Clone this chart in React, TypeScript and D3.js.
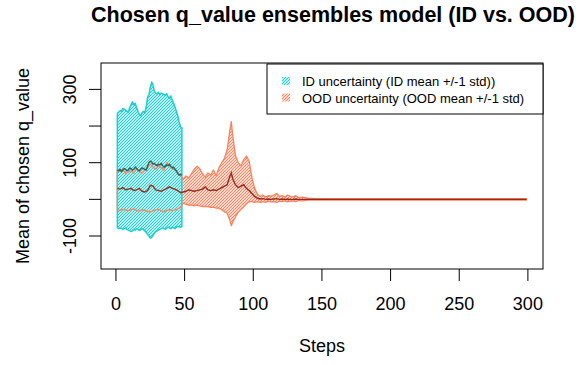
import React from "react";
import * as d3 from "d3";

const idSteps = [1,2,3,4,5,6,7,8,9,10,11,12,13,14,15,16,17,18,19,20,21,22,23,24,25,26,27,28,29,30,31,32,33,34,35,36,37,38,39,40,41,42,43,44,45,46,47,48];
const idUpper = [235,238,242,240,248,246,243,240,238,250,258,266,258,262,250,240,232,228,236,240,236,252,278,285,305,320,312,294,290,288,292,286,290,288,286,284,288,280,276,282,270,262,252,240,228,212,198,195];
const idLower = [-78,-80,-78,-79,-82,-80,-78,-82,-84,-86,-88,-86,-82,-84,-80,-82,-85,-83,-80,-82,-86,-90,-95,-100,-106,-104,-98,-92,-88,-86,-84,-82,-80,-78,-80,-82,-78,-76,-78,-80,-76,-78,-80,-76,-74,-75,-76,-74];
const idMean = [80,78,82,76,80,84,82,78,80,86,84,80,82,88,84,80,78,82,86,84,82,80,90,100,104,102,96,98,94,92,96,94,98,92,88,90,94,92,96,90,86,88,82,78,70,66,68,66];

const oodSteps = [1,3,5,7,9,11,13,15,17,19,21,23,25,27,29,31,33,35,37,39,41,43,45,47,49,51,53,55,57,59,61,63,65,67,69,71,73,75,77,79,81,83,84,85,87,89,91,93,95,97,99,101,103,105,107,109,111,113,115,117,119,121,123,125,127,129,131,133,136,140,145,150,200,250,299];
const oodUpper = [80,76,82,70,74,78,72,84,76,72,80,86,96,88,82,92,86,80,100,90,84,80,72,66,55,64,58,70,82,90,84,70,60,72,66,80,64,86,100,112,136,190,212,175,120,100,92,108,118,104,60,30,14,8,12,6,10,8,12,16,8,10,6,12,8,6,10,5,6,3,2,2,2,2,2];
const oodLower = [-28,-30,-27,-29,-31,-28,-26,-30,-32,-28,-30,-33,-35,-31,-29,-27,-31,-34,-30,-28,-31,-29,-26,-22,-10,-14,-16,-15,-18,-16,-18,-20,-19,-20,-22,-21,-24,-24,-28,-34,-38,-58,-72,-62,-48,-35,-28,-20,-12,-6,-6,-8,-6,-8,-6,-8,-5,-7,-6,-8,-5,-6,-4,-7,-5,-4,-6,-3,-4,-2,-2,-2,-2,-2,-2];
const oodMean = [30,28,32,26,28,30,24,26,30,22,20,24,38,36,26,24,22,26,30,34,30,28,24,18,20,22,26,24,22,24,26,28,34,26,24,26,24,28,32,36,40,64,72,56,40,32,36,40,30,24,16,8,3,1,2,0,1,0,1,2,0,1,0,1,0,0,1,0,0,0,0,0,0,0,0];

const xTicks = [0, 50, 100, 150, 200, 250, 300];
const yTicks = [-100, 0, 100, 200, 300];
const yTickLabels = ["-100", "", "100", "", "300"];

const title = "Chosen q_value ensembles model (ID vs. OOD)";
const xTitle = "Steps";
const yTitle = "Mean of chosen q_value";
const legendLabels = ["ID uncertainty (ID mean +/-1 std))", "OOD uncertainty (OOD mean +/-1 std)"];

const ID_COLOR = "#1fcfcf";
const OOD_COLOR = "#fb825e";
const ID_MEAN_COLOR = "#2f5f5c";
const OOD_MEAN_COLOR = "#962a1e";

const FONT = "'Liberation Sans', Arial, Helvetica, sans-serif";
const HATCH = "M0,3 L3,0 M-1,1 L1,-1 M2,4 L4,2";

export default function App() {
  const W = 588, H = 365;
  const left = 101, right = 543, top = 63, bottom = 269;
  const x = d3.scaleLinear().domain([-10.9, 311]).range([left, right]);
  const y = d3.scaleLinear().domain([-190, 372]).range([bottom, top]);

  const idData = idSteps.map((s, i) => ({ s, u: idUpper[i], l: idLower[i], m: idMean[i] }));
  const oodData = oodSteps.map((s, i) => ({ s, u: oodUpper[i], l: oodLower[i], m: oodMean[i] }));

  const area = d3.area<any>().x(d => x(d.s)).y0(d => y(d.l)).y1(d => y(d.u));
  const meanLine = d3.line<any>().x(d => x(d.s)).y(d => y(d.m));
  const outline = (data: any[]) => {
    const pts = data.map(d => [x(d.s), y(d.u)] as [number, number])
      .concat(data.slice().reverse().map(d => [x(d.s), y(d.l)] as [number, number]));
    return d3.line()(pts) + "Z";
  };

  return (
    <svg width={W} height={H} style={{ position: "absolute", left: 0, top: 0 }} fontFamily={FONT}>
      <defs>
        <pattern id="hatchID" patternUnits="userSpaceOnUse" width="3" height="3">
          <path d={HATCH} stroke={ID_COLOR} strokeWidth="1.2" fill="none" />
        </pattern>
        <pattern id="hatchOOD" patternUnits="userSpaceOnUse" width="3" height="3">
          <path d={HATCH} stroke={OOD_COLOR} strokeWidth="1.2" fill="none" />
        </pattern>
      </defs>
      <rect x={0} y={0} width={W} height={H} fill="white" />

      {/* bands */}
      <path d={area(oodData) || ""} fill="url(#hatchOOD)" />
      <path d={area(idData) || ""} fill="white" />
      <path d={area(idData) || ""} fill="url(#hatchID)" />
      <path d={outline(idData)} fill="none" stroke={ID_COLOR} strokeWidth={1.5} strokeLinejoin="round" />
      <path d={outline(oodData)} fill="none" stroke={OOD_COLOR} strokeWidth={1.3} strokeLinejoin="round" />
      <path d={meanLine(idData) || ""} fill="none" stroke={ID_MEAN_COLOR} strokeWidth={1.4} />
      <path d={meanLine(oodData) || ""} fill="none" stroke={OOD_MEAN_COLOR} strokeWidth={1.4} />

      {/* box */}
      <rect x={left} y={top} width={right - left} height={bottom - top} fill="none" stroke="black" strokeWidth={1} />

      {/* x axis */}
      {xTicks.map(t => (
        <g key={"x" + t}>
          <line x1={x(t)} x2={x(t)} y1={bottom} y2={bottom + 12} stroke="black" />
          <text x={x(t)} y={310} textAnchor="middle" fontSize={18}>{t}</text>
        </g>
      ))}
      <text x={(left + right) / 2} y={352} textAnchor="middle" fontSize={18}>{xTitle}</text>

      {/* y axis */}
      {yTicks.map((t, i) => (
        <g key={"y" + t}>
          <line x1={left - 12} x2={left} y1={y(t)} y2={y(t)} stroke="black" />
          {yTickLabels[i] && (
            <text transform={`translate(76,${y(t)}) rotate(-90)`} textAnchor="middle" fontSize={18}>{yTickLabels[i]}</text>
          )}
        </g>
      ))}
      <text transform={`translate(29,${(top + bottom) / 2}) rotate(-90)`} textAnchor="middle" fontSize={18}>{yTitle}</text>

      {/* title */}
      <text x={333} y={22} textAnchor="middle" fontSize={21.5} fontWeight="bold">{title}</text>

      {/* legend */}
      <rect x={267} y={64} width={276} height={50} fill="white" stroke="black" strokeWidth={1} />
      {legendLabels.map((lab, i) => (
        <g key={lab}>
          <rect x={282} y={77 + i * 16.5} width={8} height={8} fill={`url(#${i === 0 ? "hatchID" : "hatchOOD"})`} />
          <text x={302} y={86 + i * 16.5} fontSize={13}>{lab}</text>
        </g>
      ))}
    </svg>
  );
}
